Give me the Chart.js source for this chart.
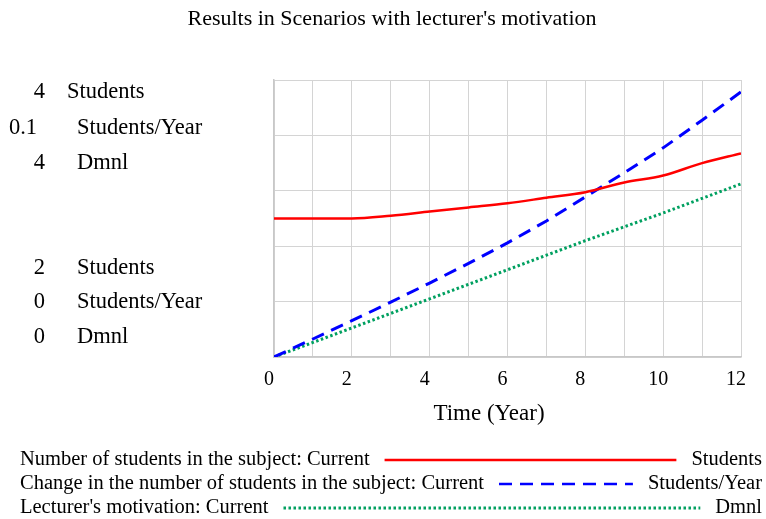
<!DOCTYPE html>
<html>
<head>
<meta charset="utf-8">
<script src="https://cdn.jsdelivr.net/npm/chart.js@4/dist/chart.umd.min.js"></script>
<style>
  html, body { margin: 0; padding: 0; background: #fff; }
  #wrap { width: 766px; height: 519px; }
</style>
</head>
<body>
<div id="wrap"><canvas id="simChart" width="766" height="519"></canvas></div>
<script>
"use strict";

// time axis (years)
const years = [0, 1, 2, 3, 4, 5, 6, 7, 8, 9, 10, 11, 12];

// Number of students in the subject: Current (Students)
const students = [3.00, 3.00, 3.00, 3.02, 3.05, 3.08, 3.11, 3.15, 3.19, 3.26, 3.31, 3.40, 3.47];
// Change in the number of students in the subject: Current (Students/Year)
const studentChange = [0, 0.0065, 0.0131, 0.0198, 0.0267, 0.0338, 0.0412, 0.0491, 0.0578, 0.0665, 0.0755, 0.0855, 0.0957];
// Lecturer's motivation: Current (Dmnl)
const motivation = [0, 0.21, 0.42, 0.63, 0.84, 1.05, 1.26, 1.47, 1.68, 1.88, 2.08, 2.29, 2.50];

const seriesNames = [
    "Number of students in the subject: Current",
    "Change in the number of students in the subject: Current",
    "Lecturer's motivation: Current"
];
const seriesUnits = ["Students", "Students/Year", "Dmnl"];
const axisMax = ["4", "0.1", "4"];
const axisMin = ["2", "0", "0"];

const serif = "'Liberation Serif', 'Times New Roman', serif";
const colors = ['#ff0000', '#0000ff', '#00a060'];
const dashes = [[], [13, 8], [2.5, 2.5]];

function toPoints(vals) {
    return years.map((t, i) => ({ x: t, y: vals[i] }));
}

// text outside the plot: title, left scale labels, x axis name, legend
const extras = {
    id: 'extras',
    afterDraw(chart) {
        const ctx = chart.ctx;
        ctx.save();
        ctx.fillStyle = '#000';
        ctx.textBaseline = 'middle';

        ctx.textAlign = 'center';
        ctx.font = '22px ' + serif;
        ctx.fillText("Results in Scenarios with lecturer's motivation", 392, 19);
        ctx.font = '23px ' + serif;
        ctx.fillText("Time (Year)", 489, 414);

        // left scale labels (max group, then min group)
        ctx.font = '22.5px ' + serif;
        const topRows = [92, 128, 163];
        const botRows = [268, 302, 337];
        const valX = [45, 37, 45];
        const unitX = [67, 77, 77];
        for (let i = 0; i < 3; i++) {
            ctx.textAlign = 'right';
            ctx.fillText(axisMax[i], valX[i], topRows[i]);
            ctx.fillText(axisMin[i], 45, botRows[i]);
            ctx.textAlign = 'left';
            ctx.fillText(seriesUnits[i], unitX[i], topRows[i]);
            ctx.fillText(seriesUnits[i], 77, botRows[i]);
        }

        // legend rows
        ctx.font = '20.5px ' + serif;
        const legY = [460, 484, 508];
        for (let i = 0; i < 3; i++) {
            ctx.textAlign = 'left';
            ctx.fillText(seriesNames[i], 20, legY[i]);
            const nameW = ctx.measureText(seriesNames[i]).width;
            ctx.textAlign = 'right';
            ctx.fillText(seriesUnits[i], 762, legY[i]);
            const unitW = ctx.measureText(seriesUnits[i]).width;
            ctx.beginPath();
            ctx.strokeStyle = colors[i];
            ctx.lineWidth = i === 2 ? 3 : 2.5;
            ctx.setLineDash(dashes[i]);
            ctx.moveTo(20 + nameW + 15, legY[i]);
            ctx.lineTo(762 - unitW - 15, legY[i]);
            ctx.stroke();
            ctx.setLineDash([]);
        }
        ctx.restore();
    }
};

new Chart(document.getElementById('simChart'), {
    type: 'line',
    data: {
        datasets: [{
            label: seriesNames[0],
            data: toPoints(students),
            yAxisID: 'yStudents',
            borderColor: colors[0],
            borderWidth: 2.5,
            pointRadius: 0,
            cubicInterpolationMode: 'monotone'
        }, {
            label: seriesNames[1],
            data: toPoints(studentChange),
            yAxisID: 'yChange',
            borderColor: colors[1],
            borderWidth: 3,
            borderDash: dashes[1],
            pointRadius: 0
        }, {
            label: seriesNames[2],
            data: toPoints(motivation),
            yAxisID: 'yMotivation',
            borderColor: colors[2],
            borderWidth: 3,
            borderDash: dashes[2],
            pointRadius: 0
        }]
    },
    options: {
        responsive: false,
        animation: false,
        layout: { padding: { left: 274, right: 25, top: 80, bottom: 0 } },
        plugins: {
            legend: { display: false },
            title: { display: false },
            tooltip: { enabled: false }
        },
        scales: {
            x: {
                type: 'linear',
                min: 0,
                max: 12,
                afterFit: s => { s.height = 162; },
                grid: { color: '#d4d4d4', lineWidth: 1, drawTicks: false },
                border: { color: '#c8c8c8', width: 1.5 },
                ticks: {
                    stepSize: 1,
                    padding: 11,
                    labelOffset: -5,
                    color: '#000',
                    font: { family: serif, size: 20 },
                    maxRotation: 0,
                    autoSkip: false,
                    callback: v => (v % 2 === 0 ? String(v) : '')
                }
            },
            yStudents: {
                position: 'left',
                min: 2,
                max: 4,
                afterFit: s => { s.width = 0; },
                grid: { color: '#d4d4d4', lineWidth: 1, drawTicks: false },
                border: { color: '#c8c8c8', width: 1.5 },
                ticks: { display: false, stepSize: 0.4 }
            },
            yChange: {
                display: false,
                min: 0,
                max: 0.1
            },
            yMotivation: {
                display: false,
                min: 0,
                max: 4
            }
        }
    },
    plugins: [extras]
});
</script>
</body>
</html>
